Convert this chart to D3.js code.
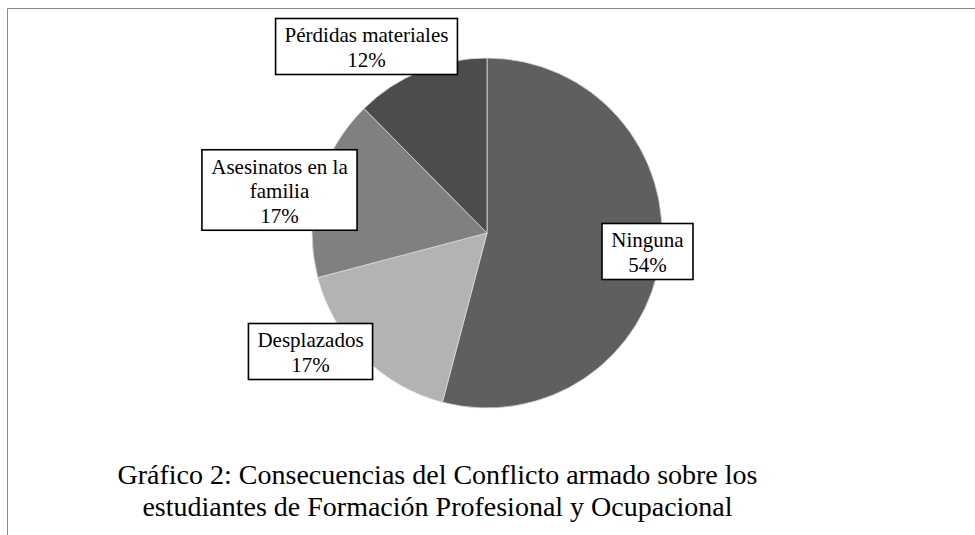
<!DOCTYPE html>
<html>
<head>
<meta charset="utf-8">
<script src="https://cdn.jsdelivr.net/npm/d3@7"></script>
<style>
  html, body { margin: 0; padding: 0; background: #fff; }
  svg { display: block; }
  text { font-family: "Liberation Serif", "Times New Roman", serif; fill: #000; }
</style>
</head>
<body>
<svg id="chart" width="975" height="535"></svg>
<script>
// ---- data ----
const categories = ["Ninguna", "Desplazados", "Asesinatos en la familia", "Pérdidas materiales"];
const values = [54.1, 16.8, 16.7, 12.4];
const labelLines = [["Ninguna"], ["Desplazados"], ["Asesinatos en la", "familia"], ["Pérdidas materiales"]];
const sliceColors = ["#5f5f5f", "#b3b3b3", "#808080", "#4c4c4c"];
const captionLines = [
  "Gráfico 2: Consecuencias del Conflicto armado sobre los",
  "estudiantes de Formación Profesional y Ocupacional"
];

// ---- layout ----
const cx = 487, cy = 233, R = 175;
const svg = d3.select("#chart");

// frame
svg.append("path")
  .attr("d", `M7.5,535 V8.5 H975`)
  .attr("fill", "none").attr("stroke", "#8a8a8a").attr("stroke-width", 1);

const data = categories.map((c, i) => ({ cat: c, value: values[i], lines: labelLines[i], color: sliceColors[i] }));
const pie = d3.pie().value(d => d.value).sort(null);
const arc = d3.arc().innerRadius(0).outerRadius(R);
const arcs = pie(data);

const g = svg.append("g").attr("transform", `translate(${cx},${cy})`);
g.selectAll("path.slice").data(arcs).join("path")
  .attr("class", "slice")
  .attr("d", arc)
  .attr("fill", d => d.data.color)
  .attr("stroke", "#d9d9d9")
  .attr("stroke-width", 0.8);

// label placement (box centers, relative to pie center)
const boxCenters = [[160.5, 18.5], [-176.5, 118.5], [-207.5, -43], [-120.5, -186.5]];
const fs = 21, lh = 24.5, padX = 9, padY = 4;

arcs.forEach((a, i) => {
  const lines = a.data.lines.concat([Math.round(a.data.value) + "%"]);
  const lg = g.append("g").attr("transform", `translate(${boxCenters[i][0]},${boxCenters[i][1]})`);
  const rect = lg.append("rect").attr("fill", "#fff").attr("stroke", "#000").attr("stroke-width", 1.6);
  const t = lg.append("text").attr("text-anchor", "middle").style("font-size", fs + "px");
  const n = lines.length;
  lines.forEach((s, k) => {
    t.append("tspan").attr("x", 0).attr("y", (k - (n - 1) / 2) * lh + 8).text(s);
  });
  const bb = t.node().getBBox();
  const bw = bb.width + 2 * padX;
  const bh = n * lh + 2 * padY - 1;
  rect.attr("x", -bw / 2).attr("y", -bh / 2).attr("width", bw).attr("height", bh);
});

// caption
const cap = svg.append("text").attr("text-anchor", "middle").style("font-size", "28px");
captionLines.forEach((s, k) => {
  cap.append("tspan").attr("x", 437.5).attr("y", 484 + k * 32).text(s);
});
</script>
</body>
</html>
